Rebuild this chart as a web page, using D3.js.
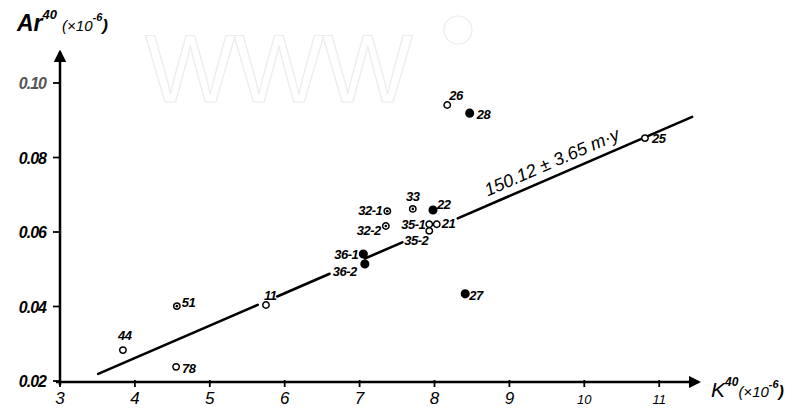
<!DOCTYPE html>
<html>
<head>
<meta charset="utf-8">
<script src="https://cdn.jsdelivr.net/npm/d3@7"></script>
<style>
  body { margin: 0; background: #fff; }
  svg text { font-family: "Liberation Sans", "DejaVu Sans", sans-serif; font-style: italic; font-weight: bold; fill: #000; }
</style>
</head>
<body>
<div id="chart"></div>
<script>
// values
const xTicks = [3, 4, 5, 6, 7, 8, 9, 10, 11];
const yTicks = [0.02, 0.04, 0.06, 0.08, 0.10];
const yTickLabels = ["0.02", "0.04", "0.06", "0.08", "0.10"];

const samples = ["44", "78", "51", "11", "36-1", "36-2", "32-1", "32-2", "33", "22", "35-1", "21", "35-2", "26", "28", "27", "25"];
const k40 =     [3.84, 4.55, 4.56, 5.75, 7.05, 7.07, 7.37, 7.35, 7.71, 7.98, 7.93, 8.03, 7.93, 8.17, 8.47, 8.41, 10.81];
const ar40 =    [0.0283, 0.0238, 0.0401, 0.0404, 0.0541, 0.0514, 0.0656, 0.0616, 0.0662, 0.0659, 0.0621, 0.0621, 0.0603, 0.0941, 0.0919, 0.0434, 0.0852];
const markerType = ["open", "open", "dot", "open", "filled", "filled", "dot", "dot", "dot", "filled", "open", "open", "open", "open", "filled", "filled", "open"];

// isochron line: end points and the gaps left where labels sit
const lineK = [3.51, 11.44];
const lineAr = [0.0219, 0.0909];
const lineGaps = [[5.64, 5.90], [6.60, 7.07], [7.57, 8.31]];
const lineLabel = "150.12 ± 3.65 m·y";

const width = 807, height = 408;

const svg = d3.select("#chart").append("svg")
    .attr("width", width)
    .attr("height", height);

const x = d3.scaleLinear().domain([3, 11.5]).range([60, 60 + 8.5 * 74.9]);
const y = d3.scaleLinear().domain([0.02, 0.10]).range([381, 83]);

// faint watermark behind everything
svg.append("text")
    .attr("x", 145)
    .attr("y", 102)
    .style("font-size", "96px")
    .style("font-style", "normal")
    .style("font-weight", "normal")
    .style("fill", "none")
    .style("stroke", "#ececec")
    .style("stroke-width", 1.2)
    .style("letter-spacing", "-2px")
    .text("WWW");

svg.append("circle")
    .attr("cx", 458).attr("cy", 30).attr("r", 14)
    .attr("fill", "none")
    .attr("stroke", "#ececec")
    .attr("stroke-width", 1.2);

// arrow heads
const defs = svg.append("defs");
defs.append("marker")
    .attr("id", "arrow")
    .attr("viewBox", "0 0 10 10")
    .attr("refX", 8).attr("refY", 5)
    .attr("markerWidth", 5).attr("markerHeight", 5)
    .attr("markerUnits", "strokeWidth")
    .attr("orient", "auto")
  .append("path")
    .attr("d", "M0,0 L10,5 L0,10 Z")
    .attr("fill", "#000");

const axisY0 = y(0.02) + 1;

// x axis
svg.append("line")
    .attr("x1", x(3) - 4).attr("y1", axisY0)
    .attr("x2", x(11.5) + 2).attr("y2", axisY0)
    .attr("stroke", "#000").attr("stroke-width", 2.5)
    .attr("marker-end", "url(#arrow)");

svg.selectAll(".xtick")
    .data(xTicks)
  .enter().append("line")
    .attr("class", "xtick")
    .attr("x1", d => x(d)).attr("x2", d => x(d))
    .attr("y1", axisY0 - 2).attr("y2", axisY0 + 5)
    .attr("stroke", "#000").attr("stroke-width", 1.8);

svg.selectAll(".xlabel")
    .data(xTicks)
  .enter().append("text")
    .attr("class", "xlabel")
    .attr("x", d => x(d))
    .attr("y", 404)
    .attr("text-anchor", "middle")
    .style("font-size", d => d >= 10 ? "13px" : "17px")
    .style("font-weight", "normal")
    .text(d => d);

// y axis
svg.append("line")
    .attr("x1", x(3)).attr("y1", axisY0 + 3)
    .attr("x2", x(3)).attr("y2", 52)
    .attr("stroke", "#000").attr("stroke-width", 2.5)
    .attr("marker-end", "url(#arrow)");

svg.selectAll(".ytick")
    .data(yTicks)
  .enter().append("line")
    .attr("class", "ytick")
    .attr("x1", x(3) - 7).attr("x2", x(3))
    .attr("y1", d => y(d)).attr("y2", d => y(d))
    .attr("stroke", "#000").attr("stroke-width", 1.8);

svg.selectAll(".ylabel")
    .data(yTicks)
  .enter().append("text")
    .attr("class", "ylabel")
    .attr("x", 46)
    .attr("y", d => y(d) + 6)
    .attr("text-anchor", "end")
    .style("font-size", "16px")
    .style("letter-spacing", "-1px")
    .style("fill", (d, i) => i === 4 ? "#555" : "#000")
    .text((d, i) => yTickLabels[i]);

// axis titles
const yTitle = svg.append("text").attr("x", 17).attr("y", 31);
yTitle.append("tspan").style("font-size", "23px").text("Ar");
yTitle.append("tspan").attr("dy", -12).style("font-size", "13px").text("40");
yTitle.append("tspan").attr("dy", 12).attr("dx", 5).style("font-size", "15px").style("font-weight", "normal").text("(×10");
yTitle.append("tspan").attr("dy", -10).style("font-size", "11px").text("-6");
yTitle.append("tspan").attr("dy", 10).style("font-size", "17px").text(")");

const xTitle = svg.append("text").attr("x", 711).attr("y", 397);
xTitle.append("tspan").style("font-size", "21px").style("font-weight", "normal").text("K");
xTitle.append("tspan").attr("dy", -11).style("font-size", "12px").text("40");
xTitle.append("tspan").attr("dy", 11).style("font-size", "15px").style("font-weight", "normal").text("(×10");
xTitle.append("tspan").attr("dy", -9).style("font-size", "11px").text("-6");
xTitle.append("tspan").attr("dy", 9).style("font-size", "16px").text(")");

// isochron line broken into pieces around the labels
const slope = (lineAr[1] - lineAr[0]) / (lineK[1] - lineK[0]);
const lineAt = k => lineAr[0] + (k - lineK[0]) * slope;
const bounds = [lineK[0]];
lineGaps.forEach(g => { bounds.push(g[0]); bounds.push(g[1]); });
bounds.push(lineK[1]);
const pieces = d3.range(0, bounds.length, 2).map(i => [bounds[i], bounds[i + 1]]);

svg.selectAll(".fit")
    .data(pieces)
  .enter().append("line")
    .attr("class", "fit")
    .attr("x1", d => x(d[0])).attr("y1", d => y(lineAt(d[0])))
    .attr("x2", d => x(d[1])).attr("y2", d => y(lineAt(d[1])))
    .attr("stroke", "#000").attr("stroke-width", 2.6)
    .attr("stroke-linecap", "round");

const angle = Math.atan2(y(lineAt(11)) - y(lineAt(8)), x(11) - x(8)) * 180 / Math.PI;
const labK = 8.71;
svg.append("text")
    .attr("transform", `translate(${x(labK)},${y(lineAt(labK)) - 9}) rotate(${angle})`)
    .style("font-size", "18px")
    .style("font-weight", "normal")
    .text(lineLabel);

// sample points
const points = samples.map((s, i) => ({ name: s, k: k40[i], ar: ar40[i], type: markerType[i] }));

const pt = svg.selectAll(".pt")
    .data(points)
  .enter().append("g")
    .attr("class", "pt")
    .attr("transform", d => `translate(${x(d.k)},${y(d.ar)})`);

pt.append("circle")
    .attr("r", d => d.type === "filled" ? 3.8 : 3.2)
    .attr("fill", d => d.type === "filled" ? "#000" : "#fff")
    .attr("stroke", "#000")
    .attr("stroke-width", 1.5);

pt.filter(d => d.type === "dot").append("circle")
    .attr("r", 1.3)
    .attr("fill", "#000");

// label placement next to each point
const labelPos = {
    "44": [-5, -10, "start"], "78": [6, 6, "start"], "51": [5, 1, "start"], "11": [-2, -5, "start"],
    "36-1": [-5, 5, "end"], "36-2": [-8, 12, "end"], "32-1": [-5, 4, "end"], "32-2": [-5, 9, "end"],
    "33": [0, -8, "middle"], "22": [4, -1, "start"], "35-1": [-4, 5, "end"], "21": [5, 4, "start"],
    "35-2": [-1, 14, "end"], "26": [2, -5, "start"], "28": [7, 6, "start"], "27": [4, 6, "start"],
    "25": [7, 5, "start"]
};

pt.append("text")
    .attr("x", d => labelPos[d.name][0])
    .attr("y", d => labelPos[d.name][1])
    .attr("text-anchor", d => labelPos[d.name][2])
    .style("font-size", "13px")
    .style("letter-spacing", "-0.5px")
    .text(d => d.name);
</script>
</body>
</html>
